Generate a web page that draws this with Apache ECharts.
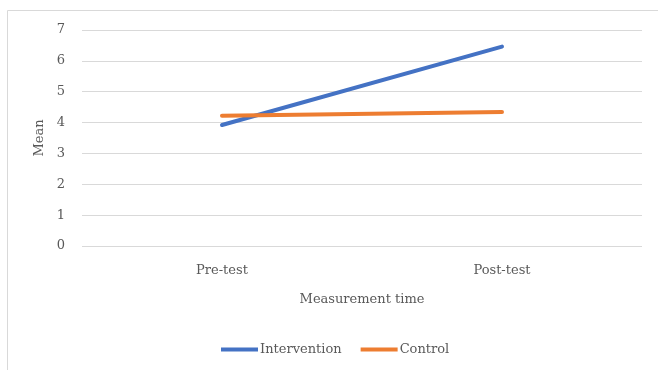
<!DOCTYPE html>
<html>
<head>
<meta charset="utf-8">
<script src="https://cdn.jsdelivr.net/npm/echarts@6/dist/echarts.min.js"></script>
<style>html,body{margin:0;padding:0;background:#fff;}#c{width:658px;height:370px;}</style>
</head>
<body>
<div id="c"></div>
<script>
const categories = ['Pre-test', 'Post-test'];
const intervention = [3.92, 6.46];
const control = [4.22, 4.34];
const yTicks = [0, 1, 2, 3, 4, 5, 6, 7];

const FONT = 'DejaVu Serif';
const TXT = '#595959';
const chart = echarts.init(document.getElementById('c'), null, {renderer: 'canvas'});
chart.setOption({
  animation: false,
  textStyle: {fontFamily: FONT},
  graphic: [
    {type: 'line', shape: {x1: 7.5, y1: 10.5, x2: 658, y2: 10.5}, style: {stroke: '#d9d9d9', lineWidth: 1}},
    {type: 'line', shape: {x1: 7.5, y1: 10.5, x2: 7.5, y2: 370}, style: {stroke: '#d9d9d9', lineWidth: 1}}
  ],
  grid: {left: 82, right: 16, top: 30, bottom: 124, containLabel: false},
  legend: {
    bottom: 9, left: 216,
    itemWidth: 37, itemHeight: 4, itemGap: 19,
    icon: 'rect',
    textStyle: {color: TXT, fontFamily: FONT, fontSize: 13, padding: [0, 0, 0, -3]},
    data: ['Intervention', 'Control']
  },
  xAxis: {
    type: 'category', data: categories, boundaryGap: true,
    name: 'Measurement time', nameLocation: 'middle', nameGap: 47,
    nameTextStyle: {color: TXT, fontFamily: FONT, fontSize: 13},
    axisLine: {show: false}, axisTick: {show: false},
    axisLabel: {color: TXT, fontFamily: FONT, fontSize: 13, margin: 18}
  },
  yAxis: {
    type: 'value', min: 0, max: 7, interval: 1,
    name: 'Mean', nameLocation: 'middle', nameGap: 34, nameRotate: 90,
    nameTextStyle: {color: TXT, fontFamily: FONT, fontSize: 13},
    axisLine: {show: false}, axisTick: {show: false},
    axisLabel: {color: TXT, fontFamily: FONT, fontSize: 13, margin: 17,
      formatter: v => yTicks.includes(v) ? String(v) : ''},
    splitLine: {lineStyle: {color: '#d9d9d9', width: 1}}
  },
  series: [
    {name: 'Intervention', type: 'line', data: intervention, symbol: 'none',
     lineStyle: {color: '#4472C4', width: 4, cap: 'round'}, itemStyle: {color: '#4472C4'}},
    {name: 'Control', type: 'line', data: control, symbol: 'none',
     lineStyle: {color: '#ED7D31', width: 4, cap: 'round'}, itemStyle: {color: '#ED7D31'}}
  ]
});
</script>
</body>
</html>
